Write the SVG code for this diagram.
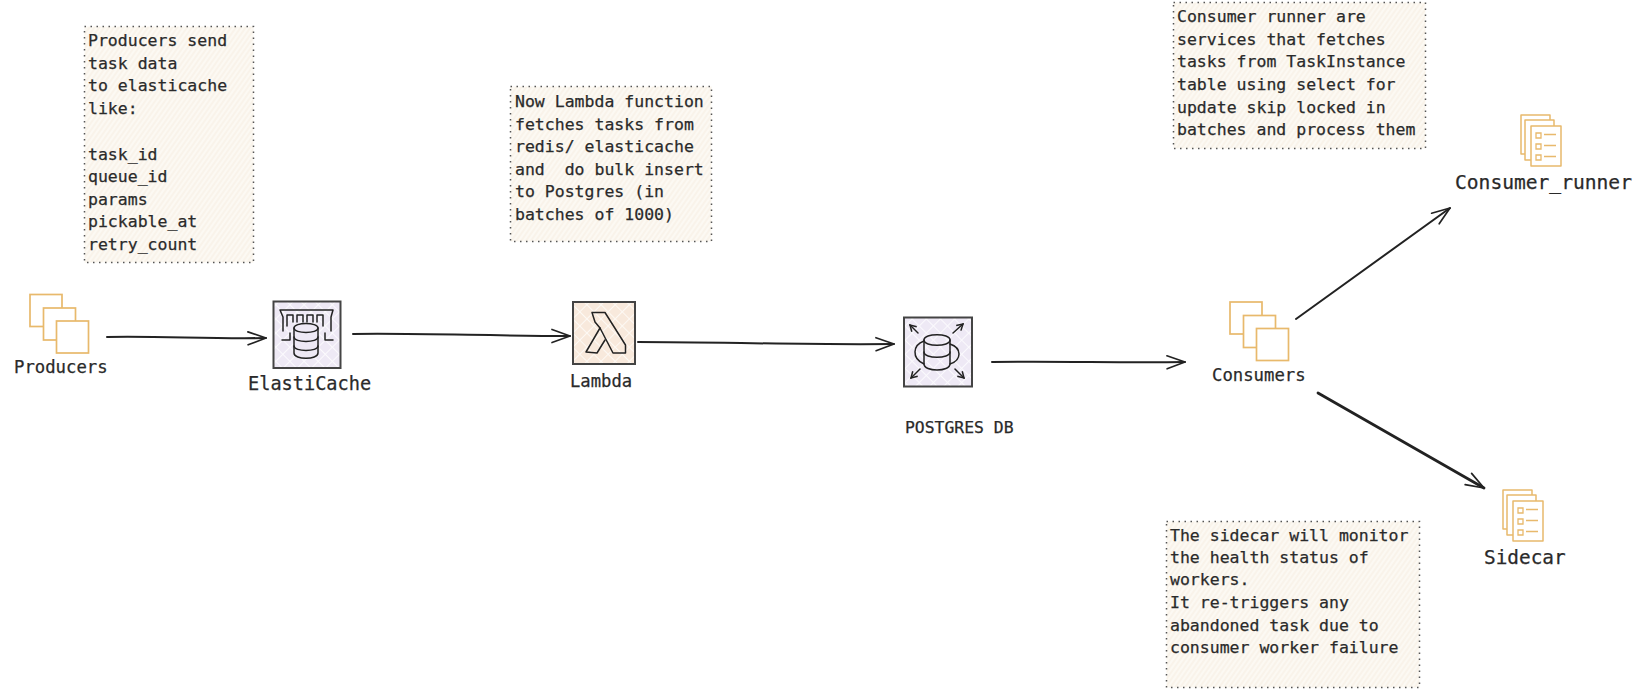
<svg xmlns="http://www.w3.org/2000/svg" width="1640" height="689" viewBox="0 0 1640 689">
<style>
text{font-family:"DejaVu Sans Mono","Liberation Mono",monospace;fill:#2a2a2a;stroke:#2a2a2a;stroke-width:.25}
.note{stroke:#555;stroke-width:1.5;stroke-dasharray:1.5 4.5}
.n16{font-size:16.5px}
.sq{fill:#fff;stroke:#e8b96c;stroke-width:1.7}
.doc{fill:#fff;stroke:#e8b96c;stroke-width:1.5;stroke-linejoin:round}
.doc2{fill:none;stroke:#e8b96c;stroke-width:1.3}
.box{stroke:#444;stroke-width:2}
.ico{fill:none;stroke:#222;stroke-width:1.5;stroke-linejoin:round;stroke-linecap:round}
.cn{fill:none;stroke:#222;stroke-width:2;stroke-linecap:round;marker-end:url(#head)}
</style>
<defs>
<marker id="head" markerUnits="userSpaceOnUse" markerWidth="24" markerHeight="20" refX="20" refY="10" orient="auto">
<path d="M2 3.500L20 10L2 16.500" fill="none" stroke="#222" stroke-width="1.700" stroke-linecap="round" stroke-linejoin="round"/>
</marker>
<marker id="tiny" markerUnits="userSpaceOnUse" markerWidth="10" markerHeight="10" refX="8" refY="5" orient="auto">
<path d="M2 1.500L8 5L2 8.500" fill="none" stroke="#222" stroke-width="1.500"/>
</marker>
<pattern id="hatch" width="4" height="4" patternUnits="userSpaceOnUse" patternTransform="rotate(-55)">
<rect width="4" height="4" fill="#fcf9f3"/>
<path d="M0 1H4" stroke="#f7f0e4" stroke-width="1.200"/>
</pattern>
<pattern id="xpurple" width="10" height="10" patternUnits="userSpaceOnUse" patternTransform="rotate(45)">
<rect width="10" height="10" fill="#eee9f5"/>
<path d="M0 0H10M0 0V10" stroke="#fbfafd" stroke-width="2"/>
</pattern>
<pattern id="xpeach" width="10" height="10" patternUnits="userSpaceOnUse" patternTransform="rotate(45)">
<rect width="10" height="10" fill="#f8e9dc"/>
<path d="M0 0H10M0 0V10" stroke="#fdf9f4" stroke-width="2"/>
</pattern>
<g id="stack">
<rect class="sq" x="0" y="0" width="32" height="32"/>
<rect class="sq" x="13.500" y="13.500" width="32" height="32"/>
<rect class="sq" x="26.500" y="26.500" width="32" height="32"/>
</g>
<g id="docs">
<rect class="doc" x="0" y="0" width="29" height="39"/>
<rect class="doc" x="4" y="5" width="29" height="40"/>
<rect class="doc" x="10" y="11" width="30" height="40"/>
<path class="doc2" d="M15 18h5v5h-5zM15 29h5v5h-5zM15 40h5v5h-5zM23 19.500h12M23 30.500h12M23 41.500h12"/>
</g>
</defs>
<rect width="1640" height="689" fill="#fff"/>

<g id="connectors">
<path class="cn" d="M107 337C160 336 210 339 266 338"/>
<path class="cn" d="M353 334C420 333 490 336 570 336"/>
<path class="cn" d="M638 342C720 342 800 345 894 344"/>
<path class="cn" d="M992 362C1060 361 1120 363 1185 362"/>
<path class="cn" d="M1296 319L1450 208"/>
<path class="cn" style="stroke-width:2.800" d="M1318 393L1484 488"/>
</g>

<g id="note-producers">
<rect class="note" x="84.500" y="26.500" width="169" height="236" fill="url(#hatch)"/>
<g class="n16">
<text x="88" y="46">Producers send</text>
<text x="88" y="69">task data</text>
<text x="88" y="91">to elasticache</text>
<text x="88" y="114">like:</text>
<text x="88" y="160">task_id</text>
<text x="88" y="182">queue_id</text>
<text x="88" y="205">params</text>
<text x="88" y="227">pickable_at</text>
<text x="88" y="250">retry_count</text>
</g>
</g>

<g id="note-lambda">
<rect class="note" x="510.500" y="86.500" width="201" height="155" fill="url(#hatch)"/>
<g class="n16">
<text x="515" y="107">Now Lambda function</text>
<text x="515" y="130">fetches tasks from</text>
<text x="515" y="152">redis/ elasticache</text>
<text x="515" y="175" xml:space="preserve">and  do bulk insert</text>
<text x="515" y="197">to Postgres (in</text>
<text x="515" y="220">batches of 1000)</text>
</g>
</g>

<g id="note-consumer-runner">
<rect class="note" x="1173.500" y="2.500" width="252" height="146" fill="url(#hatch)"/>
<g class="n16">
<text x="1177" y="22">Consumer runner are</text>
<text x="1177" y="45">services that fetches</text>
<text x="1177" y="67">tasks from TaskInstance</text>
<text x="1177" y="90">table using select for</text>
<text x="1177" y="113">update skip locked in</text>
<text x="1177" y="135">batches and process them</text>
</g>
</g>

<g id="note-sidecar">
<rect class="note" x="1166.500" y="521.500" width="253" height="166" fill="url(#hatch)"/>
<g class="n16">
<text x="1170" y="541">The sidecar will monitor</text>
<text x="1170" y="563">the health status of</text>
<text x="1170" y="585">workers.</text>
<text x="1170" y="608">It re-triggers any</text>
<text x="1170" y="631">abandoned task due to</text>
<text x="1170" y="653">consumer worker failure</text>
</g>
</g>

<g id="producers">
<use href="#stack" x="30" y="294.500"/>
<text x="14" y="373" font-size="17.300">Producers</text>
</g>

<g id="elasticache">
<rect class="box" x="273.500" y="301.500" width="67" height="66.500" fill="url(#xpurple)"/>
<path class="ico" d="M280 310H333L331 317V331M280 310L283 317V331M287 326V315H293V322M297 322V315H303V322M307 322V315H313V322M317 322V315H323V326M282 340H290V333M333 340H325V333"/>
<path class="ico" style="fill:#eee9f5" d="M294 328C294 322 318 322 318 328V353C318 360 294 360 294 353Z"/>
<path class="ico" d="M294 328C294 334 318 334 318 328M294 337C294 343 318 343 318 337M294 346C294 352 318 352 318 346"/>
<text x="248" y="390" font-size="18.600">ElastiCache</text>
</g>

<g id="lambda">
<rect class="box" x="573" y="302" width="62" height="62" fill="url(#xpeach)"/>
<path class="ico" d="M592 312.500H605L625.500 345V353L613 353L600 328L595 322Z"/>
<path class="ico" d="M600 328L586 352L597 353L605 340"/>
<text x="570" y="387" font-size="17.200">Lambda</text>
</g>

<g id="postgres">
<rect class="box" x="904" y="317.500" width="68" height="69" fill="url(#xpurple)"/>
<path class="ico" d="M924 340C924 333 950 333 950 340V364C950 372 924 372 924 364Z"/>
<path class="ico" d="M924 340C924 347 950 347 950 340M924 352C924 359 950 359 950 352M924 341C913 345 911 358 924 364M950 344C962 348 962 360 950 364"/>
<path class="ico" marker-end="url(#tiny)" d="M918 333L910 325"/>
<path class="ico" marker-end="url(#tiny)" d="M953 333L963 324"/>
<path class="ico" marker-end="url(#tiny)" d="M920 369L911 378"/>
<path class="ico" marker-end="url(#tiny)" d="M955 369L964 378"/>
<text x="905" y="433" font-size="16.400">POSTGRES DB</text>
</g>

<g id="consumers">
<use href="#stack" x="1230" y="302"/>
<text x="1212" y="381" font-size="17.300">Consumers</text>
</g>

<g id="consumer-runner">
<use href="#docs" x="1521" y="115"/>
<text x="1455" y="189" font-size="19.600">Consumer_runner</text>
</g>

<g id="sidecar">
<use href="#docs" x="1503" y="490"/>
<text x="1484" y="564" font-size="19.400">Sidecar</text>
</g>
</svg>
